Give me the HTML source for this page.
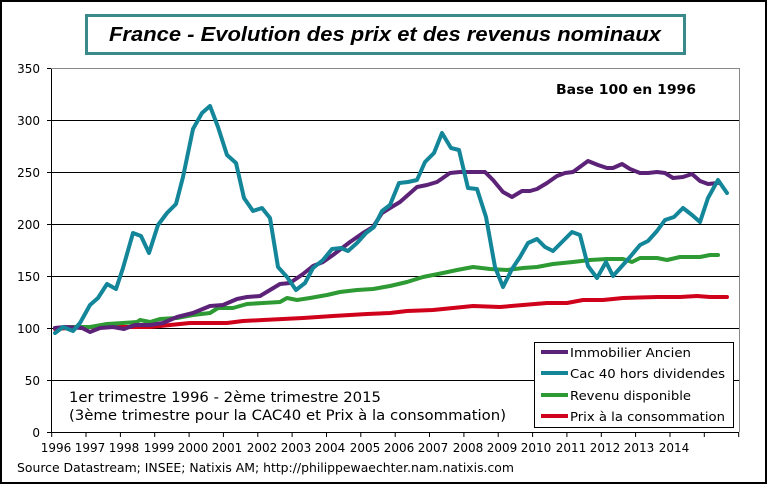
<!DOCTYPE html>
<html><head><meta charset="utf-8"><style>
html,body{margin:0;padding:0;background:#fff}
svg{display:block;font-family:"DejaVu Sans","Liberation Sans",sans-serif}
</style></head><body>
<svg width="767" height="484" viewBox="0 0 767 484" xmlns="http://www.w3.org/2000/svg">
<rect x="1" y="1" width="765" height="482" fill="#fff" stroke="#000" stroke-width="2"/>
<rect x="86.5" y="15.5" width="598" height="38" fill="#fff" stroke="#3a8a8c" stroke-width="3"/>
<text x="385" y="41" text-anchor="middle" font-family="Liberation Sans, sans-serif" font-weight="bold" font-style="italic" font-size="20" textLength="552" lengthAdjust="spacingAndGlyphs">France - Evolution des prix et des revenus nominaux</text>
<g stroke="#000" stroke-width="1">
<line x1="51" y1="380.5" x2="739" y2="380.5"/>
<line x1="51" y1="328.5" x2="739" y2="328.5"/>
<line x1="51" y1="276.5" x2="739" y2="276.5"/>
<line x1="51" y1="224.5" x2="739" y2="224.5"/>
<line x1="51" y1="172.5" x2="739" y2="172.5"/>
<line x1="51" y1="120.5" x2="739" y2="120.5"/>
<line x1="51" y1="432.5" x2="739" y2="432.5"/>
<line x1="51.5" y1="68" x2="51.5" y2="432"/>
</g>
<line x1="51" y1="68.5" x2="739" y2="68.5" stroke="#888"/>
<line x1="739.5" y1="68" x2="739.5" y2="432" stroke="#888"/>
<g stroke="#000">
<line x1="47" y1="68.5" x2="51" y2="68.5"/><line x1="47" y1="120.5" x2="51" y2="120.5"/><line x1="47" y1="172.5" x2="51" y2="172.5"/><line x1="47" y1="224.5" x2="51" y2="224.5"/><line x1="47" y1="276.5" x2="51" y2="276.5"/><line x1="47" y1="328.5" x2="51" y2="328.5"/><line x1="47" y1="380.5" x2="51" y2="380.5"/><line x1="47" y1="432.5" x2="51" y2="432.5"/>
<path d="M51.7 432v5M86 432v5M120.4 432v5M154.7 432v5M189.1 432v5M223.4 432v5M257.8 432v5M292.1 432v5M326.5 432v5M360.8 432v5M395.2 432v5M429.5 432v5M463.9 432v5M498.2 432v5M532.6 432v5M566.9 432v5M601.3 432v5M635.6 432v5M670 432v5M704.3 432v5M738.7 432v5"/>
</g>
<g font-size="12" text-anchor="end">
<text x="40" y="73">350</text><text x="40" y="125">300</text><text x="40" y="177">250</text><text x="40" y="229">200</text><text x="40" y="281">150</text><text x="40" y="333">100</text><text x="40" y="385">50</text><text x="40" y="437">0</text>
</g>
<g font-size="12" text-anchor="middle">
<text x="56" y="452">1996</text><text x="90" y="452">1997</text><text x="124" y="452">1998</text><text x="159" y="452">1999</text><text x="193" y="452">2000</text><text x="227" y="452">2001</text><text x="262" y="452">2002</text><text x="296" y="452">2003</text><text x="330" y="452">2004</text><text x="365" y="452">2005</text><text x="399" y="452">2006</text><text x="433" y="452">2007</text><text x="468" y="452">2008</text><text x="502" y="452">2009</text><text x="536" y="452">2010</text><text x="571" y="452">2011</text><text x="605" y="452">2012</text><text x="639" y="452">2013</text><text x="674" y="452">2014</text>
</g>
<text x="17" y="472" font-size="12" textLength="497" lengthAdjust="spacingAndGlyphs">Source Datastream; INSEE; Natixis AM;  http://philippewaechter.nam.natixis.com</text>
<text x="556" y="94" font-size="13" font-weight="bold" textLength="140" lengthAdjust="spacingAndGlyphs">Base 100 en 1996</text>
<text x="69" y="402" font-size="14" textLength="312" lengthAdjust="spacingAndGlyphs">1er trimestre 1996 - 2ème trimestre 2015</text>
<text x="69" y="420" font-size="14" textLength="437" lengthAdjust="spacingAndGlyphs">(3ème trimestre pour la  CAC40 et Prix à la consommation)</text>
<g fill="none" stroke-width="4" stroke-linejoin="round" stroke-linecap="round">
<polyline stroke="#d0021b" points="55,329 83,327 117,327 150,327 190,323 227,323 243,321 263,320 283,319 303,318 333,316 367,314 390,313 407,311 433,310 453,308 473,306 500,307 523,305 547,303 567,303 583,300 603,300 623,298 657,297 680,297 697,296 710,297 727,297"/>
<polyline stroke="#2e9a33" points="55,328 70,327 90,327 107,324 123,323 137,322 140,320 150,322 160,319 177,318 193,315 210,313 218,308 233,308 247,304 263,303 280,302 287,298 297,300 310,298 327,295 340,292 357,290 373,289 390,286 407,282 423,277 443,273 457,270 473,267 490,269 507,270 523,268 537,267 553,264 573,262 590,260 607,259 623,259 632,262 640,258 657,258 667,260 680,257 700,257 710,255 718,255"/>
<polyline stroke="#5c2278" points="55,328 65,327 82,328 90,332 100,328 113,327 124,329 135,325 150,325 163,323 177,317 193,313 210,306 223,305 237,299 247,297 260,296 270,290 280,284 290,283 303,274 313,266 323,262 333,255 350,242 363,233 373,227 382,213 390,208 400,202 417,187 427,185 437,182 450,173 460,172 473,172 485,172 493,180 503,192 512,197 522,191 530,191 537,189 547,183 557,176 565,173 573,172 588,161 598,165 607,168 613,168 622,164 630,169 640,173 648,173 657,172 665,173 673,178 683,177 692,174 700,181 708,184 718,183"/>
<polyline stroke="#13869a" points="55,333 63,327 73,331 80,323 90,305 98,298 107,284 116,289 123,268 133,233 141,236 149,253 158,225 167,213 176,204 183,177 193,129 202,113 210,106 218,127 227,155 236,163 244,198 253,211 262,208 270,218 278,267 287,277 296,290 305,283 313,268 323,260 332,249 341,248 348,251 357,243 366,233 374,227 382,211 390,205 399,183 408,182 417,180 425,162 434,153 442,133 451,148 459,150 468,188 477,189 486,217 495,267 503,287 512,269 520,257 528,243 537,239 545,247 553,251 563,241 572,232 580,235 588,266 597,278 606,262 613,276 622,266 630,257 640,245 648,241 657,231 665,220 674,217 683,208 692,215 700,222 708,198 718,180 727,193"/>
</g>
<rect x="534.5" y="342.5" width="199" height="85" fill="#fff" stroke="#000"/>
<g stroke-width="4">
<line x1="541" y1="352" x2="568" y2="352" stroke="#5c2278"/>
<line x1="541" y1="373" x2="568" y2="373" stroke="#13869a"/>
<line x1="541" y1="395" x2="568" y2="395" stroke="#2e9a33"/>
<line x1="541" y1="416" x2="568" y2="416" stroke="#d0021b"/>
</g>
<g font-size="12">
<text x="570" y="357" textLength="121" lengthAdjust="spacingAndGlyphs">Immobilier Ancien</text>
<text x="570" y="378" textLength="155" lengthAdjust="spacingAndGlyphs">Cac 40 hors dividendes</text>
<text x="570" y="400" textLength="121" lengthAdjust="spacingAndGlyphs">Revenu disponible</text>
<text x="570" y="421" textLength="155" lengthAdjust="spacingAndGlyphs">Prix à la consommation</text>
</g>
</svg>
</body></html>
